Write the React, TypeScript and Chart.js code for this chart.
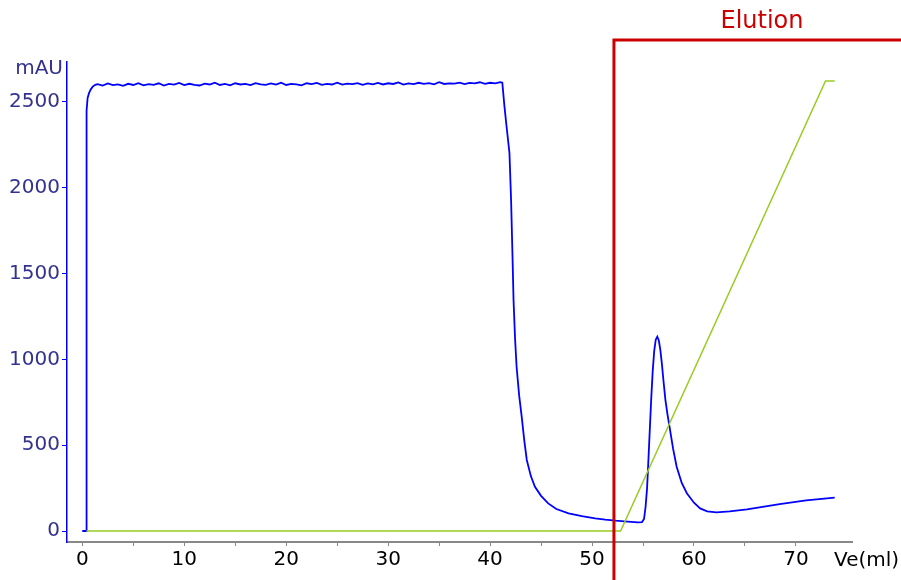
import React, { useEffect, useRef } from "react";
import { Chart, registerables } from "chart.js";

Chart.register(...registerables);

// UV absorbance (mAU) vs elution volume (ml)
const uvStartX = [0, 0.4, 0.42, 0.52, 0.65, 0.8, 1.0, 1.27];
const uvStartY = [0, 0, 2450, 2523, 2550, 2570, 2588, 2600];

// plateau, every 0.5 ml from 1.5 to 41.0
const plateauX = [
  1.5, 2, 2.5, 3, 3.5, 4, 4.5, 5, 5.5, 6, 6.5, 7, 7.5, 8, 8.5, 9, 9.5, 10,
  10.5, 11, 11.5, 12, 12.5, 13, 13.5, 14, 14.5, 15, 15.5, 16, 16.5, 17, 17.5,
  18, 18.5, 19, 19.5, 20, 20.5, 21, 21.5, 22, 22.5, 23, 23.5, 24, 24.5, 25,
  25.5, 26, 26.5, 27, 27.5, 28, 28.5, 29, 29.5, 30, 30.5, 31, 31.5, 32, 32.5,
  33, 33.5, 34, 34.5, 35, 35.5, 36, 36.5, 37, 37.5, 38, 38.5, 39, 39.5, 40,
  40.5, 41,
];
const plateauY = [
  2604, 2596, 2608, 2598, 2603, 2594, 2606, 2599, 2610, 2597, 2604, 2600,
  2609, 2596, 2605, 2601, 2611, 2598, 2606, 2600, 2596, 2607, 2602, 2612,
  2599, 2605, 2597, 2609, 2602, 2606, 2598, 2610, 2603, 2600, 2608, 2601,
  2612, 2599, 2606, 2603, 2597, 2609, 2604, 2611, 2600, 2606, 2602, 2613,
  2601, 2607, 2604, 2610, 2600, 2608, 2603, 2611, 2602, 2609, 2605, 2614,
  2601, 2608, 2604, 2612, 2606, 2610, 2603, 2615, 2605, 2609, 2607, 2613,
  2604, 2611, 2608, 2615, 2606, 2612, 2609, 2616,
];

const uvEndX = [
  41.2, 41.4, 41.6, 41.9, 42.06, 42.2, 42.3, 42.45, 42.6, 42.85, 43.1, 43.35,
  43.6, 44.0, 44.4, 45.0, 45.7, 46.5, 47.7, 49.0, 50.3, 51.3, 52.3, 53.5,
  54.5, 54.9, 55.1, 55.25, 55.4, 55.5, 55.65, 55.8, 55.95, 56.1, 56.25, 56.4,
  56.55, 56.7, 56.85, 57.0, 57.2, 57.4, 57.6, 57.95, 58.3, 58.8, 59.3, 60.0,
  60.6, 61.3, 62.2, 63.5, 65.2, 68.4, 71.0, 73.8,
];
const uvEndY = [
  2612, 2480, 2366, 2203, 1929, 1600, 1346, 1120, 957, 790, 666, 530, 414,
  320, 258, 205, 161, 128, 103, 87, 74, 66, 60, 55, 50, 52, 70, 140, 250, 375,
  570, 763, 930, 1050, 1115, 1132, 1110, 1055, 975, 880, 763, 680, 608, 480,
  375, 280, 220, 165, 132, 115, 109, 115, 126, 157, 178, 194,
];

// salt gradient (green)
const gradX = [0.4, 52.8, 72.9, 73.8];
const gradY = [0, 0, 2622, 2622];

const xTicks = [0, 5, 10, 15, 20, 25, 30, 35, 40, 45, 50, 55, 60, 65, 70];
const yTicks = [0, 500, 1000, 1500, 2000, 2500];
const elutionStart = 52.15;

const FONT = "'DejaVu Sans', sans-serif";

export default function App() {
  const ref = useRef<HTMLCanvasElement | null>(null);

  useEffect(() => {
    const canvas = ref.current;
    if (!canvas) return;
    const uvX = [...uvStartX, ...plateauX, ...uvEndX];
    const uvY = [...uvStartY, ...plateauY, ...uvEndY];
    const uvData = uvX.map((x, i) => ({ x, y: uvY[i] }));
    const gradData = gradX.map((x, i) => ({ x, y: gradY[i] }));

    const overlay = {
      id: "overlay",
      afterDraw(chart: any) {
        const { ctx, chartArea, scales } = chart;
        const xs = scales.x;
        const px = xs.getPixelForValue(elutionStart);
        const topY = chartArea.top - 22;
        ctx.save();
        ctx.strokeStyle = "#cc0000";
        ctx.lineWidth = 3;
        ctx.beginPath();
        ctx.moveTo(px, chart.height);
        ctx.lineTo(px, topY);
        ctx.lineTo(chart.width, topY);
        ctx.stroke();
        ctx.fillStyle = "#cc0000";
        ctx.font = `24px ${FONT}`;
        ctx.textAlign = "center";
        ctx.textBaseline = "middle";
        ctx.fillText("Elution", 762, 22);

        ctx.fillStyle = "#33338f";
        ctx.font = `20px ${FONT}`;
        ctx.textAlign = "right";
        ctx.fillText("mAU", chartArea.left - 4, chartArea.top + 7);

        ctx.fillStyle = "#000";
        ctx.textAlign = "left";
        ctx.fillText("Ve(ml)", chartArea.right - 18, chartArea.bottom + 19);
        ctx.restore();
      },
    };

    const chart = new Chart(canvas, {
      type: "line",
      data: {
        datasets: [
          {
            data: gradData,
            borderColor: "#99cc22",
            borderWidth: 1.5,
            pointRadius: 0,
            tension: 0,
          },
          {
            data: uvData,
            borderColor: "#0000ff",
            borderWidth: 1.8,
            pointRadius: 0,
            tension: 0,
          },
        ],
      },
      options: {
        responsive: false,
        animation: false,
        devicePixelRatio: 1,
        parsing: false as any,
        layout: { padding: { top: 62, right: 49, left: 0, bottom: 0 } },
        plugins: {
          legend: { display: false },
          tooltip: { enabled: false },
        },
        scales: {
          x: {
            type: "linear",
            min: -1.5,
            max: 75.5,
            afterBuildTicks: (s: any) => {
              s.ticks = xTicks.map((v) => ({ value: v }));
            },
            afterFit: (s: any) => {
              s.height = 38;
            },
            border: { color: "#888888", width: 2 },
            grid: {
              drawOnChartArea: false,
              tickLength: 4,
              tickColor: "#888888",
            },
            ticks: {
              color: "#000",
              font: { family: FONT, size: 20 },
              padding: 2,
              maxRotation: 0,
              autoSkip: false,
              callback: (v: any) => (Number(v) % 10 === 0 ? String(v) : ""),
            },
          },
          y: {
            type: "linear",
            min: -64,
            max: 2733,
            afterBuildTicks: (s: any) => {
              s.ticks = yTicks.map((v) => ({ value: v }));
            },
            afterFit: (s: any) => {
              s.width = 67;
            },
            border: { color: "#0000ff", width: 1.5 },
            grid: {
              drawOnChartArea: false,
              tickLength: 5,
              tickColor: "#0000ff",
            },
            ticks: {
              color: "#33338f",
              font: { family: FONT, size: 20 },
              padding: 2,
              callback: (v: any) => String(v),
            },
          },
        },
      },
      plugins: [overlay],
    });
    return () => chart.destroy();
  }, []);

  return (
    <div style={{ position: "fixed", left: 0, top: 0, width: 901, height: 580, background: "#fff" }}>
      <canvas ref={ref} width={901} height={580} />
    </div>
  );
}
